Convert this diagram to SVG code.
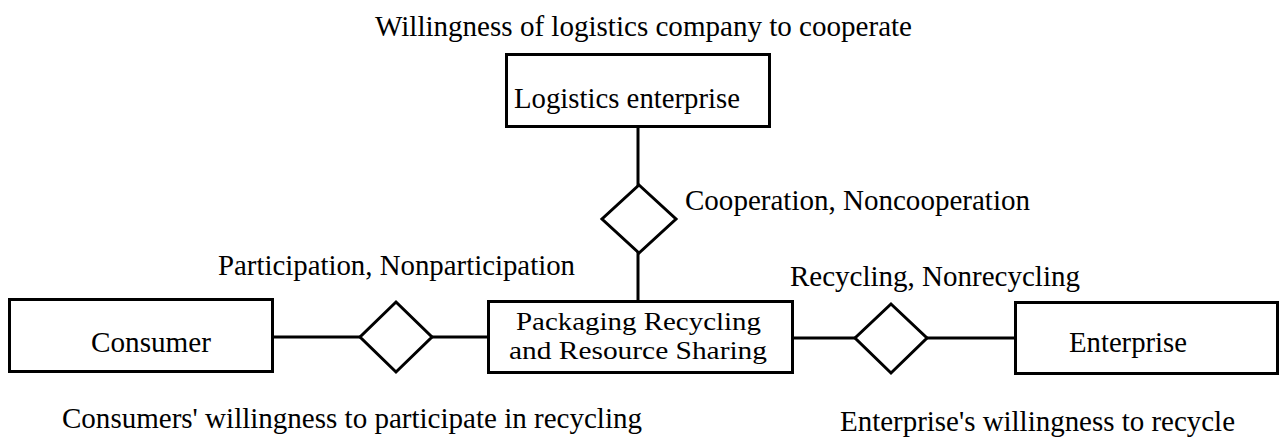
<svg xmlns="http://www.w3.org/2000/svg" width="1279" height="437" viewBox="0 0 1279 437">
<style>
.box{fill:#fff;stroke:#000;stroke-width:3}
.dia{fill:#fff;stroke:#000;stroke-width:3}
.ln{stroke:#000;stroke-width:3;fill:none}
text{font-family:"Liberation Serif","Times New Roman",serif;font-size:29px;fill:#000}
.sm{font-size:26px}
</style>
<rect width="1279" height="437" fill="#fff"/>
<g id="connectors">
<line class="ln" x1="638" y1="127" x2="638" y2="301"/>
<line class="ln" x1="273" y1="337" x2="488" y2="337"/>
<line class="ln" x1="793" y1="338" x2="1015" y2="338"/>
</g>
<g id="logistics">
<rect class="box" x="506.5" y="54.5" width="263" height="72"/>
<text x="514" y="108" textLength="226" lengthAdjust="spacingAndGlyphs">Logistics enterprise</text>
</g>
<g id="title">
<text x="375" y="36" textLength="537" lengthAdjust="spacingAndGlyphs">Willingness of logistics company to cooperate</text>
</g>
<g id="cooperation">
<polygon class="dia" points="639,185 676,219 639,253 602,219"/>
<text x="685" y="210" textLength="345" lengthAdjust="spacingAndGlyphs">Cooperation, Noncooperation</text>
</g>
<g id="consumer">
<rect class="box" x="9.5" y="299.5" width="263" height="72"/>
<text x="91" y="352" textLength="120" lengthAdjust="spacingAndGlyphs">Consumer</text>
<text x="62" y="428" textLength="580" lengthAdjust="spacingAndGlyphs">Consumers' willingness to participate  in recycling</text>
</g>
<g id="participation">
<polygon class="dia" points="396,302 432,337 396,372 360,337"/>
<text x="218" y="275" textLength="357" lengthAdjust="spacingAndGlyphs">Participation, Nonparticipation</text>
</g>
<g id="center">
<rect class="box" x="488.5" y="301.5" width="304" height="71"/>
<text class="sm" x="516" y="330" textLength="245" lengthAdjust="spacingAndGlyphs">Packaging Recycling</text>
<text class="sm" x="509" y="359" textLength="258" lengthAdjust="spacingAndGlyphs">and Resource Sharing</text>
</g>
<g id="recycling">
<polygon class="dia" points="891,304 927,338 891,373 855,338"/>
<text x="790" y="286" textLength="290" lengthAdjust="spacingAndGlyphs">Recycling, Nonrecycling</text>
</g>
<g id="enterprise">
<rect class="box" x="1015.5" y="302.5" width="262" height="71"/>
<text x="1069" y="352" textLength="118" lengthAdjust="spacingAndGlyphs">Enterprise</text>
<text x="840" y="431" textLength="395" lengthAdjust="spacingAndGlyphs">Enterprise's willingness to recycle</text>
</g>
</svg>
